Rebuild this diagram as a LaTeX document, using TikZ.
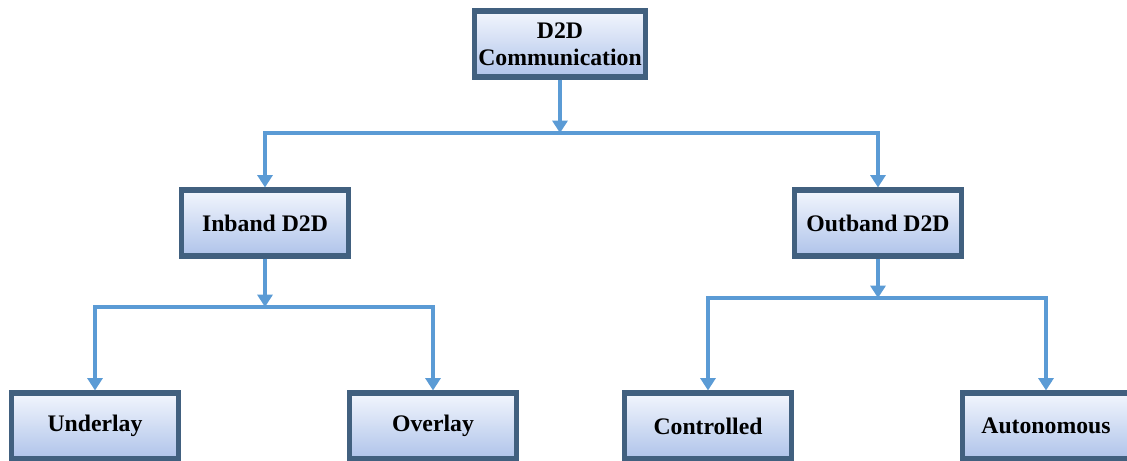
\documentclass[tikz,border=0pt]{standalone}
\usepackage{fontspec}
\setmainfont{Liberation Serif}
\usetikzlibrary{arrows.meta}
\definecolor{linkblue}{HTML}{5B9BD5}
\definecolor{boxedge}{HTML}{41607F}
\definecolor{boxtop}{HTML}{F2F6FD}
\definecolor{boxbot}{HTML}{AFC3EA}
\tikzset{
  box/.style={draw=boxedge, line width=2.9pt, top color=boxtop, bottom color=boxbot,
    minimum width=3.35cm, minimum height=1.32cm, align=center,
    font=\fontsize{13.5}{15.5}\selectfont\bfseries, inner sep=2pt},
  link/.style={linkblue, line width=1.9pt, -{Triangle[width=8.5pt,length=7pt]}}
}
\begin{document}
\begin{tikzpicture}
\useasboundingbox (0,0) rectangle (22.54,-9.22);
%\draw[step=0.5cm,gray,very thin] (0,0) grid (22.54,-9.22); %background grid

\node[box] (d2d) at (11.2,-0.88) {D2D\\Communication};
\node[box] (inband)  at (5.3,-4.46)  {Inband D2D};
\node[box] (outband) at (17.56,-4.46) {Outband D2D};

\node[box] (underlay)   at (1.9,-8.52)   {Underlay};
\node[box] (overlay)    at (8.66,-8.52)  {Overlay};
\node[box] (controlled) at (14.16,-8.52) {Controlled};
\node[box] (autonomous) at (20.92,-8.52) {Autonomous};

% junctions on the bars
\coordinate (j1) at (11.2,-2.66);
\coordinate (j2) at (5.3,-6.14);
\coordinate (j3) at (17.56,-5.96);

\draw[link] (d2d) -- (j1);
\draw[link] (j1) -| (inband);
\draw[link] (j1) -| (outband);

\draw[link] (inband) -- (j2);
\draw[link] (j2) -| (underlay);
\draw[link] (j2) -| (overlay);

\draw[link] (outband) -- (j3);
\draw[link] (j3) -| (controlled);
\draw[link] (j3) -| (autonomous);
\end{tikzpicture}
\end{document}
